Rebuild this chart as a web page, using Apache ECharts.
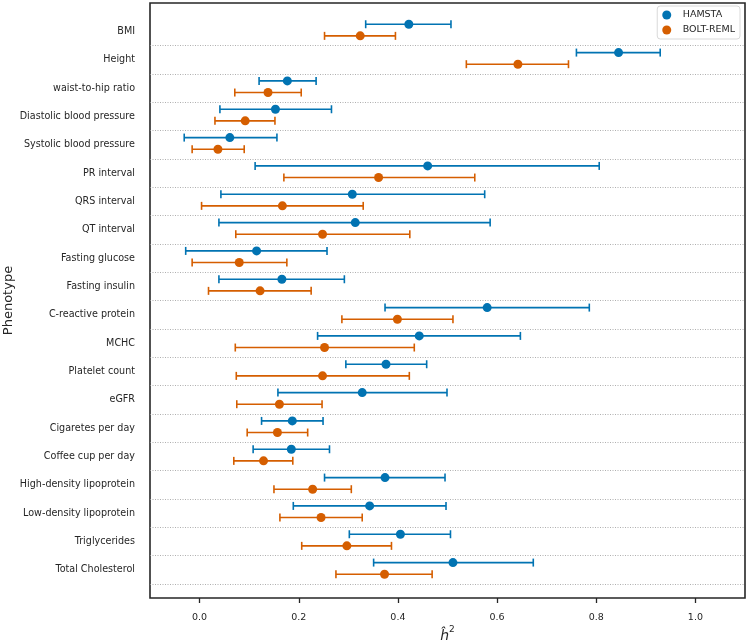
<!DOCTYPE html>
<html>
<head>
<meta charset="utf-8">
<script src="https://cdn.jsdelivr.net/npm/echarts@6/dist/echarts.min.js"></script>
<style>
  html, body { margin: 0; padding: 0; background: #fff; }
  #chart { width: 747px; height: 643px; }
</style>
</head>
<body>
<div id="chart"></div>
<script>
// 数据
var categories = ['BMI', 'Height', 'waist-to-hip ratio', 'Diastolic blood pressure', 'Systolic blood pressure',
  'PR interval', 'QRS interval', 'QT interval', 'Fasting glucose', 'Fasting insulin',
  'C-reactive protein', 'MCHC', 'Platelet count', 'eGFR', 'Cigaretes per day',
  'Coffee cup per day', 'High-density lipoprotein', 'Low-density lipoprotein', 'Triglycerides', 'Total Cholesterol'];

var hamstaMean = [0.422, 0.845, 0.177, 0.153, 0.061, 0.460, 0.308, 0.314, 0.115, 0.166,
  0.580, 0.443, 0.376, 0.328, 0.187, 0.185, 0.374, 0.343, 0.405, 0.511];
var hamstaLow = [0.335, 0.760, 0.120, 0.041, -0.031, 0.112, 0.043, 0.039, -0.028, 0.039,
  0.374, 0.238, 0.295, 0.158, 0.125, 0.108, 0.252, 0.189, 0.302, 0.351];
var hamstaHigh = [0.507, 0.929, 0.235, 0.266, 0.156, 0.806, 0.575, 0.586, 0.257, 0.292,
  0.786, 0.647, 0.458, 0.499, 0.249, 0.262, 0.495, 0.497, 0.506, 0.673];

var boltMean = [0.324, 0.642, 0.138, 0.092, 0.037, 0.361, 0.167, 0.248, 0.080, 0.122,
  0.399, 0.252, 0.248, 0.161, 0.157, 0.129, 0.228, 0.245, 0.297, 0.373];
var boltLow = [0.252, 0.538, 0.071, 0.031, -0.015, 0.170, 0.004, 0.073, -0.015, 0.018,
  0.287, 0.072, 0.074, 0.075, 0.096, 0.069, 0.150, 0.162, 0.206, 0.275];
var boltHigh = [0.395, 0.744, 0.205, 0.152, 0.090, 0.555, 0.330, 0.424, 0.176, 0.225,
  0.511, 0.433, 0.423, 0.247, 0.218, 0.188, 0.306, 0.328, 0.387, 0.469];

var xTicks = [0.0, 0.2, 0.4, 0.6, 0.8, 1.0];

var blue = '#0173b2';
var orange = '#d55e00';
var textColor = '#262626';
var font = 'DejaVu Sans';

// 每行内两个系列的上下偏移
var offHamsta = -0.25;
var offBolt = 0.16;

var rowIdx = categories.map(function (c, i) { return i; });
var separators = categories.map(function (c, i) { return { yAxis: i + 0.5 }; });

function barData(low, high, off) {
  return low.map(function (v, i) { return [v, high[i], i + off]; });
}
function dotData(mean, off) {
  return mean.map(function (v, i) { return [v, i + off]; });
}

// 误差线：横线 + 两端短竖线
function errorBar(params, api) {
  var y = api.value(2);
  var p1 = api.coord([api.value(0), y]);
  var p2 = api.coord([api.value(1), y]);
  var h = 4;
  var style = { stroke: api.visual('color'), lineWidth: 1.6 };
  return {
    type: 'group',
    children: [
      { type: 'line', shape: { x1: p1[0], y1: p1[1], x2: p2[0], y2: p2[1] }, style: style },
      { type: 'line', shape: { x1: p1[0], y1: p1[1] - h, x2: p1[0], y2: p1[1] + h }, style: style },
      { type: 'line', shape: { x1: p2[0], y1: p2[1] - h, x2: p2[0], y2: p2[1] + h }, style: style }
    ]
  };
}

var chart = echarts.init(document.getElementById('chart'));

var option = {
  animation: false,
  textStyle: { fontFamily: font },
  grid: {
    left: 150, top: 3, width: 595, height: 595,
    containLabel: false,
    outerBoundsMode: 'none',
    show: true, borderColor: '#262626', borderWidth: 1.6, backgroundColor: '#fff'
  },
  legend: {
    data: ['HAMSTA', 'BOLT-REML'],
    orient: 'vertical',
    right: 7, top: 6,
    icon: 'circle',
    itemWidth: 22, itemHeight: 9, itemGap: 5,
    padding: [4, 5],
    borderColor: '#d9d9d9', borderWidth: 1, borderRadius: 3,
    backgroundColor: '#fff',
    textStyle: { fontSize: 9.5, color: textColor, fontFamily: font }
  },
  xAxis: {
    type: 'value',
    min: -0.1, max: 1.1,
    position: 'bottom',
    name: '{h|ĥ}{s|2}',
    nameLocation: 'middle',
    nameGap: 27,
    nameMoveOverlap: false,
    nameTextStyle: {
      color: textColor, fontFamily: font,
      rich: {
        h: { fontSize: 14, fontStyle: 'italic', color: textColor, fontFamily: font, lineHeight: 18, verticalAlign: 'bottom' },
        s: { fontSize: 9, color: textColor, fontFamily: font, lineHeight: 18, verticalAlign: 'top' }
      }
    },
    axisLine: { show: false, onZero: false },
    axisTick: { show: true, customValues: xTicks, length: 5, lineStyle: { color: '#262626', width: 1.3 } },
    axisLabel: {
      customValues: xTicks, margin: 15, fontSize: 9.5, color: textColor, fontFamily: font,
      formatter: function (v) { return v.toFixed(1); }
    },
    splitLine: { show: false }
  },
  yAxis: {
    type: 'value',
    min: -1, max: 20,
    inverse: true,
    position: 'left',
    name: 'Phenotype',
    nameLocation: 'middle',
    nameGap: 135,
    nameMoveOverlap: false,
    nameTextStyle: { fontSize: 13, color: textColor, fontFamily: font },
    axisLine: { show: false, onZero: false },
    axisTick: { show: false, customValues: rowIdx },
    axisLabel: {
      customValues: rowIdx, margin: 15, fontSize: 9.6, color: textColor, fontFamily: font,
      formatter: function (v) { return categories[v] || ''; }
    },
    splitLine: { show: false }
  },
  series: [
    {
      name: 'HAMSTA err',
      type: 'custom',
      renderItem: errorBar,
      itemStyle: { color: blue },
      encode: { x: [0, 1], y: 2 },
      data: barData(hamstaLow, hamstaHigh, offHamsta),
      z: 3,
      markLine: {
        silent: true,
        symbol: 'none',
        label: { show: false },
        lineStyle: { color: '#9a9a9a', type: [1, 1.5], width: 0.8 },
        data: separators
      }
    },
    {
      name: 'BOLT-REML err',
      type: 'custom',
      renderItem: errorBar,
      itemStyle: { color: orange },
      encode: { x: [0, 1], y: 2 },
      data: barData(boltLow, boltHigh, offBolt),
      z: 3
    },
    {
      name: 'HAMSTA',
      type: 'scatter',
      symbolSize: 9,
      itemStyle: { color: blue, opacity: 1 },
      data: dotData(hamstaMean, offHamsta),
      z: 4
    },
    {
      name: 'BOLT-REML',
      type: 'scatter',
      symbolSize: 9,
      itemStyle: { color: orange, opacity: 1 },
      data: dotData(boltMean, offBolt),
      z: 4
    }
  ]
};

chart.setOption(option);
</script>
</body>
</html>
